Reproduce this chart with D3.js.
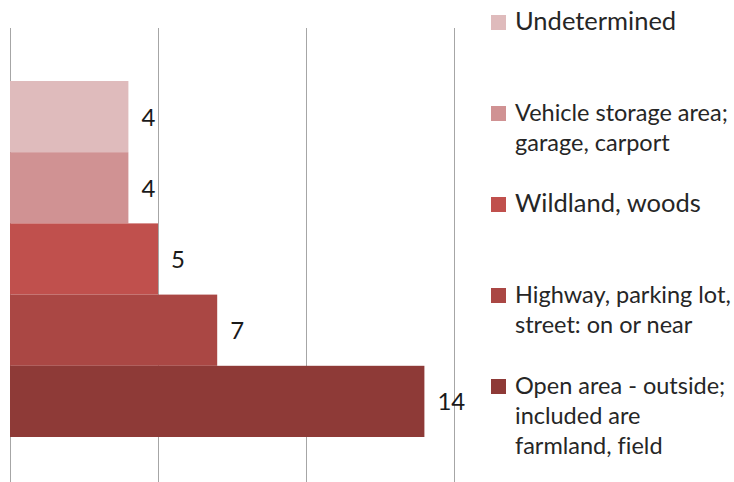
<!DOCTYPE html>
<html>
<head>
<meta charset="utf-8">
<script src="https://cdn.jsdelivr.net/npm/d3@7"></script>
<style>
  body { margin: 0; background: #fff; }
  svg { display: block; font-family: Lato, "Open Sans", sans-serif; font-variant-ligatures: none; }
</style>
</head>
<body>
<svg id="chart" width="734" height="482"></svg>
<script>
// categories, top to bottom, with wrapped legend lines
let categories = [
    "Undetermined",
    "Vehicle storage area; garage, carport",
    "Wildland, woods",
    "Highway, parking lot, street: on or near",
    "Open area - outside; included are farmland, field"
];
let legendLines = [
    ["Undetermined"],
    ["Vehicle storage area;", "garage, carport"],
    ["Wildland, woods"],
    ["Highway, parking lot,", "street: on or near"],
    ["Open area - outside;", "included are", "farmland, field"]
];
let counts = [4, 4, 5, 7, 14];
let colors = ["#dfbbbc", "#d09293", "#c0504d", "#aa4744", "#8e3a37"];
let xTicks = [0, 5, 10, 15];

let svg = d3.select("#chart");

let x = d3.scaleLinear()
    .domain([0, 15])
    .range([10, 454]);

let y = d3.scaleBand()
    .domain(categories)
    .range([81, 437])
    .padding(0);

// vertical gridlines
svg.append("g")
    .selectAll("line")
    .data(xTicks)
    .enter()
    .append("line")
    .attr("x1", d => Math.round(x(d)) + 0.5)
    .attr("x2", d => Math.round(x(d)) + 0.5)
    .attr("y1", 28)
    .attr("y2", 482)
    .attr("stroke", "#a6a6a6")
    .attr("stroke-width", 1);

// bars
svg.append("g")
    .selectAll("rect")
    .data(categories)
    .enter()
    .append("rect")
    .attr("x", x(0))
    .attr("y", d => y(d))
    .attr("width", (d, i) => x(counts[i]) - x(0))
    .attr("height", y.bandwidth())
    .attr("fill", (d, i) => colors[i]);

// value labels
svg.append("g")
    .selectAll("text")
    .data(categories)
    .enter()
    .append("text")
    .attr("x", (d, i) => x(counts[i]) + 13)
    .attr("y", d => y(d) + y.bandwidth() / 2 + 9)
    .style("font-size", "24px")
    .style("fill", "#1a1a1a")
    .text((d, i) => counts[i]);

// legend
let legend = svg.append("g")
    .selectAll("g")
    .data(categories)
    .enter()
    .append("g")
    .attr("transform", (d, i) => "translate(491," + (30 + i * 91) + ")");

legend.append("rect")
    .attr("x", 0)
    .attr("y", -15)
    .attr("width", 15)
    .attr("height", 15)
    .attr("fill", (d, i) => colors[i]);

// single-line entries are set a little larger, like the original
legend.append("text")
    .attr("x", 24)
    .attr("y", 0)
    .style("font-size", (d, i) => legendLines[i].length === 1 ? "25.5px" : "23.5px")
    .style("fill", "#262626")
    .selectAll("tspan")
    .data((d, i) => legendLines[i])
    .enter()
    .append("tspan")
    .attr("x", 24)
    .attr("dy", (d, j) => j === 0 ? 0 : 30)
    .text(d => d);
</script>
</body>
</html>
